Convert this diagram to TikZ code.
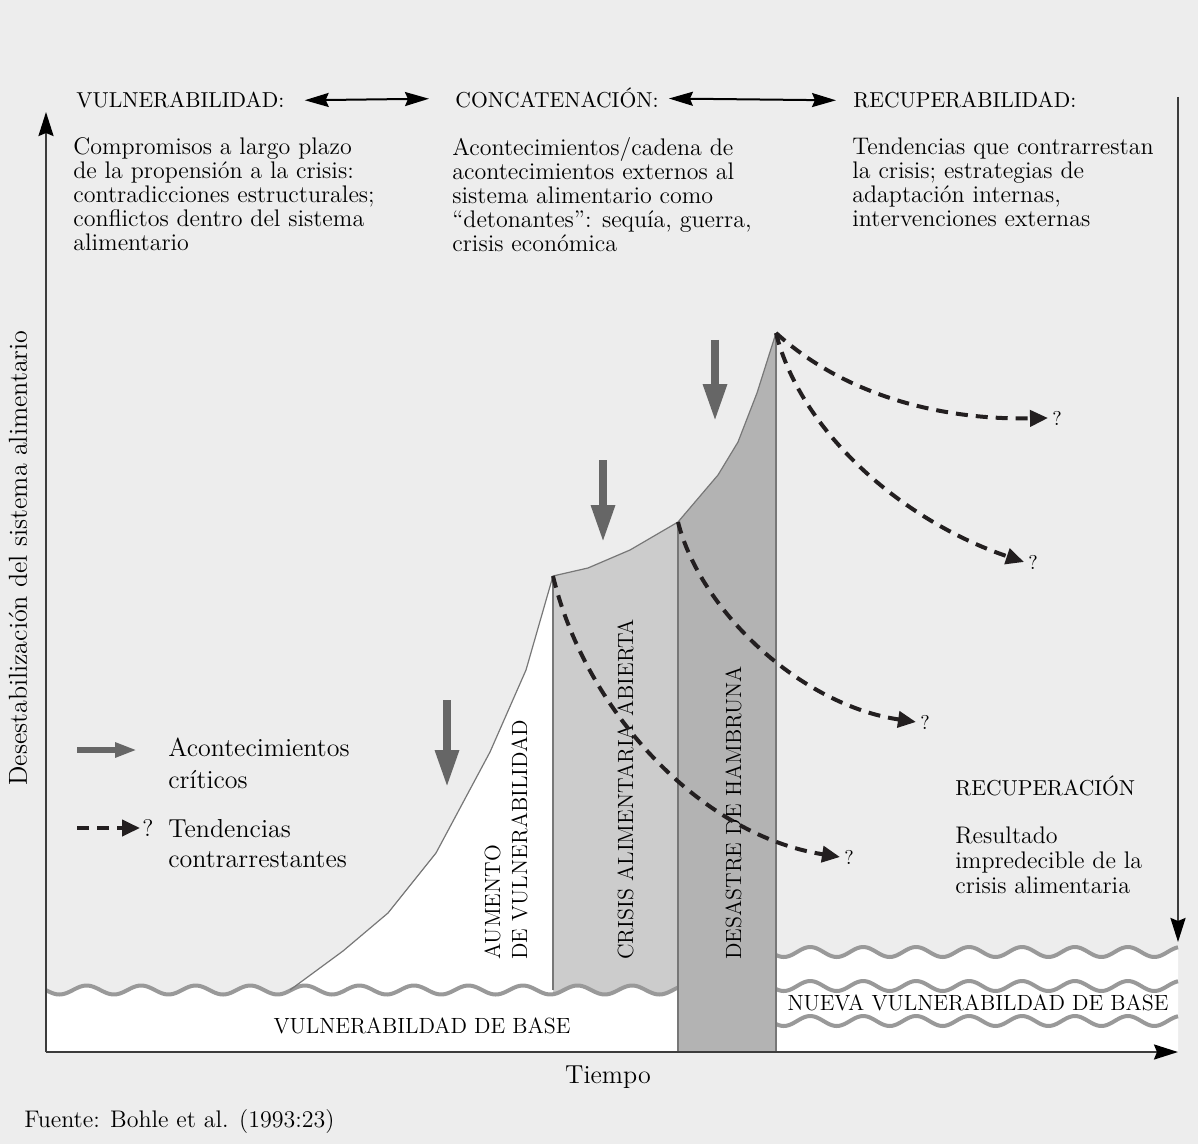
\documentclass[tikz,border=0pt]{standalone}
\usepackage{fontspec}
\usetikzlibrary{arrows.meta,positioning}

\definecolor{bggray}{HTML}{EDEDED}
\definecolor{bandlight}{HTML}{CCCCCC}
\definecolor{banddark}{HTML}{B3B3B3}
\definecolor{wavegray}{HTML}{999999}
\definecolor{critgray}{HTML}{666666}
\definecolor{linegray}{HTML}{777777}
\definecolor{axisgray}{HTML}{3C3C3C}
\definecolor{trendblack}{HTML}{231F20}

\begin{document}
\begin{tikzpicture}
[
  x=0.5pt, y=-0.5pt,
  hdr/.style={font=\fontsize{10.8}{12}\selectfont, inner sep=0pt, anchor=base west},
  body/.style={font=\fontsize{12}{12}\selectfont, align=left, inner sep=0pt, anchor=north west},
  lgd/.style={font=\fontsize{13}{16}\selectfont, align=left, inner sep=0pt, anchor=north west},
  band/.style={font=\fontsize{11}{13.5}\selectfont, align=left, rotate=90, inner sep=0pt, anchor=base west},
  basetext/.style={font=\fontsize{11}{12}\selectfont, inner sep=0pt},
  qmark/.style={font=\fontsize{10}{12}\selectfont, inner sep=2pt, anchor=west},
  dbl/.style={{Stealth[length=12pt,width=7pt,inset=1.5pt]}-{Stealth[length=12pt,width=7pt,inset=1.5pt]}, line width=1pt, draw=black},
  axis/.style={line width=1.2pt, draw=axisgray, -{Stealth[length=12pt,width=7.5pt,inset=1.5pt,fill=black,color=black]}},
  crit/.style={line width=4.3pt, draw=critgray, -{Triangle[length=19pt,width=11pt]}},
  legcrit/.style={line width=3pt, draw=critgray, -{Triangle[length=11pt,width=7pt]}},
  trend/.style={line width=2pt, draw=trendblack, dash pattern=on 6pt off 4pt, -{Triangle[length=9pt,width=8pt]}},
  wave/.style={line width=2pt, draw=wavegray},
  outline/.style={line width=0.6pt, draw=linegray}
]
  % background and size
  \fill[bggray] (0,0) rectangle (1198,1144);
  \useasboundingbox (0,0) rectangle (1198,1144);

  % points of the crisis curve
  \coordinate (foot) at (290,990);
  \coordinate (pk1) at (553,576);
  \coordinate (pk2) at (678,522);
  \coordinate (pk3) at (776,333);

  % rising vulnerability (white)
  \fill[white] (foot) -- (343,951) -- (388,913) -- (436,853) -- (490,752) -- (526,670)
    -- (pk1) -- (553,1000) -- (290,1000) -- cycle;
  % open food crisis (light band)
  \fill[bandlight] (pk1) -- (588,568) -- (630,550) -- (pk2) -- (678,1000) -- (553,1000) -- cycle;
  % base vulnerability
  \fill[white] (46,1052) -- plot[domain=46:678, samples=240, smooth] (\x,{990-4.5*sin(6.6*(\x-73))})
    -- (678,1052) -- cycle;
  % famine disaster (dark band)
  \fill[banddark] (pk2) -- (718,475) -- (738,442) -- (757,393) -- (pk3) -- (776,1052) -- (678,1052) -- cycle;
  % new base vulnerability
  \fill[white] (776,1052) -- plot[domain=776:1178, samples=160, smooth] (\x,{952-5*sin(6.8*(\x-797))})
    -- (1178,1052) -- cycle;

  % waves
  \draw[wave] plot[domain=46:678, samples=240, smooth] (\x,{990-4.5*sin(6.6*(\x-73))});
  \foreach \wy in {952,986,1021}
    \draw[wave] plot[domain=776:1178, samples=160, smooth] (\x,{\wy-5*sin(6.8*(\x-797))});

  % curve outline
  \draw[outline] (foot) -- (343,951) -- (388,913) -- (436,853) -- (490,752) -- (526,670) -- (pk1)
    -- (588,568) -- (630,550) -- (pk2) -- (718,475) -- (738,442) -- (757,393) -- (pk3);
  \draw[outline] (pk1) -- (553,990);
  \draw[outline] (pk2) -- (678,1052);
  \draw[outline] (pk3) -- (776,1052);

  % band labels
  \node[band] (aum) at (527,960) {AUMENTO\\DE VULNERABILIDAD};
  \node[band] (crisis) at (633,960) {CRISIS ALIMENTARIA ABIERTA};
  \node[band] (desastre) at (741,960) {DESASTRE DE HAMBRUNA};
  \node[basetext] (base) at (422,1026) {VULNERABILDAD DE BASE};
  \node[basetext] (newbase) at (978,1003) {NUEVA VULNERABILDAD DE BASE};

  % critical events
  \coordinate (c1a) at (447,700); \coordinate (c1b) at (447,788);
  \coordinate (c2a) at (603,460); \coordinate (c2b) at (603,543);
  \coordinate (c3a) at (715,340); \coordinate (c3b) at (715,422);
  \draw[crit] (c1a) -- (c1b);
  \draw[crit] (c2a) -- (c2b);
  \draw[crit] (c3a) -- (c3b);

  % counter trends
  \node[qmark] (qa) at (1048,418) {?};
  \node[qmark] (qb) at (1024,562) {?};
  \node[qmark] (qc) at (916,722) {?};
  \node[qmark] (qd) at (840,857) {?};
  \draw[trend] (pk3) .. controls (850,400) and (950,420) .. (qa.west);
  \draw[trend] (pk3) .. controls (800,430) and (900,520) .. (qb.west);
  \draw[trend] (pk2) .. controls (700,610) and (800,705) .. (qc.west);
  \draw[trend] (pk1) .. controls (585,710) and (700,835) .. (qd.west);

  % headings
  \node[hdr] (vul) at (76,108) {VULNERABILIDAD:};
  \node[hdr] (conc) at (455,108) {CONCATENACIÓN:};
  \node[hdr] (recup) at (853,108) {RECUPERABILIDAD:};
  \draw[dbl, shorten <=10pt, shorten >=13pt] (vul.east) -- (conc.west);
  \draw[dbl, shorten <=5pt, shorten >=8.5pt] (conc.east) -- (recup.west);

  \node[body] (vultxt) at (73,137) {Compromisos a largo plazo\\de la propensión a la crisis:\\contradicciones estructurales;\\conflictos dentro del sistema\\alimentario};
  \node[body] (conctxt) at (452,137) {Acontecimientos/cadena de\\acontecimientos externos al\\sistema alimentario como\\“detonantes”: sequía, guerra,\\crisis económica};
  \node[body] (rectxt) at (852,137) {Tendencias que contrarrestan\\la crisis; estrategias de\\adaptación internas,\\intervenciones externas};

  \node[hdr] (recov) at (955,795) {RECUPERACIÓN};
  \node[body, font=\fontsize{12}{12.5}\selectfont] (recovtxt) at (955,826) {Resultado\\impredecible de la\\crisis alimentaria};

  % legend
  \coordinate (lg1a) at (77,750); \coordinate (lg1b) at (137,750);
  \coordinate (lg2a) at (77,828);
  \node[qmark, font=\fontsize{12}{12}\selectfont, inner sep=1pt] (lgq) at (140,828) {?};
  \draw[legcrit] (lg1a) -- (lg1b);
  \draw[trend] (lg2a) -- (lgq.west);
  \node[lgd] (lgt1) at (168,738) {Acontecimientos\\críticos};
  \node[lgd, font=\fontsize{13}{15}\selectfont] (lgt2) at (168,819) {Tendencias\\contrarrestantes};

  % axes
  \coordinate (orig) at (46,1052);
  \coordinate (ytop) at (46,112);
  \coordinate (xend) at (1178,1052);
  \coordinate (ra) at (1178,97);
  \coordinate (rb) at (1178,942);
  \draw[axis] (orig) -- (ytop);
  \draw[axis] (orig) -- (xend);
  \draw[axis] (ra) -- (rb);

  \node[font=\fontsize{13}{13}\selectfont, rotate=90] (ylab) at (18,558) {Desestabilización del sistema alimentario};
  \node[font=\fontsize{13}{13}\selectfont] (tlab) at (608,1077) {Tiempo};
  \node[font=\fontsize{12}{12}\selectfont, inner sep=0pt, anchor=base west] (src) at (24,1127) {Fuente: Bohle et al. (1993:23)};
\end{tikzpicture}
\end{document}
